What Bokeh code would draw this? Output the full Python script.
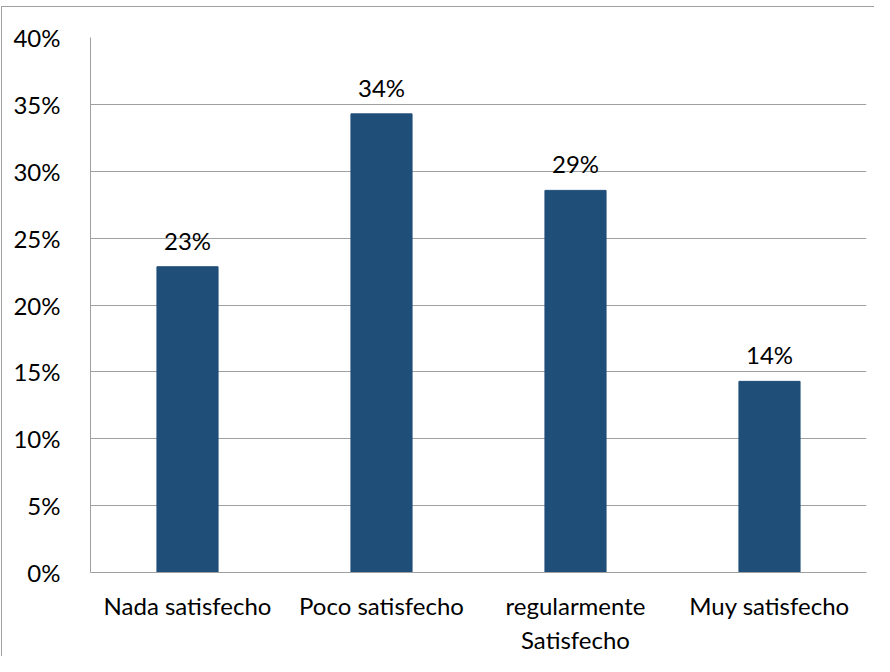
from bokeh.plotting import figure
from bokeh.layouts import column, row
from bokeh.models import ColumnDataSource, NumeralTickFormatter, FixedTicker, Spacer
from bokeh.embed import file_html
from bokeh.resources import INLINE
from bokeh.core.properties import value

categories = ["Nada satisfecho", "Poco satisfecho", "regularmente\nSatisfecho", "Muy satisfecho"]
shares = [0.2286, 0.3429, 0.2857, 0.1429]
labels = ["23%", "34%", "29%", "14%"]
y_ticks = [0, 0.05, 0.10, 0.15, 0.20, 0.25, 0.30, 0.35, 0.40]

FONT = "Lato"
src = ColumnDataSource(dict(cat=categories, val=shares, lab=labels))

p = figure(x_range=categories, y_range=(0, 0.40),
           width=873, height=650,
           min_border_left=88, min_border_top=30, min_border_right=9, min_border_bottom=83,
           output_backend="svg", toolbar_location=None)
p.styles = {"border-left": "1px solid #a0a0a0", "border-top": "1px solid #a0a0a0"}

p.vbar(x="cat", top="val", width=0.315, source=src, color="#1F4E79")
p.text(x="cat", y="val", text="lab", source=src, text_align="center", text_baseline="bottom",
       y_offset=-12, text_font=value(FONT), text_font_size="24px", text_color="#000000")

p.outline_line_color = None
p.xgrid.grid_line_color = None
p.ygrid.grid_line_color = "#a0a0a0"
p.ygrid.grid_line_width = 1

p.yaxis.ticker = FixedTicker(ticks=y_ticks)
p.yaxis.formatter = NumeralTickFormatter(format="0%")
p.yaxis.axis_line_color = "#a0a0a0"
p.yaxis.major_tick_line_color = None
p.yaxis.minor_tick_line_color = None
p.yaxis.major_label_standoff = 24

p.xaxis.axis_line_color = "#a0a0a0"
p.xaxis.major_tick_line_color = None
p.xaxis.major_label_standoff = 12

for ax in (p.xaxis, p.yaxis):
    ax.major_label_text_font = FONT
    ax.major_label_text_font_size = "24px"
    ax.major_label_text_color = "#000000"

layout = column(Spacer(height=6), row(Spacer(width=1), p), spacing=0)
open("out.html", "w").write(file_html(layout, INLINE))
